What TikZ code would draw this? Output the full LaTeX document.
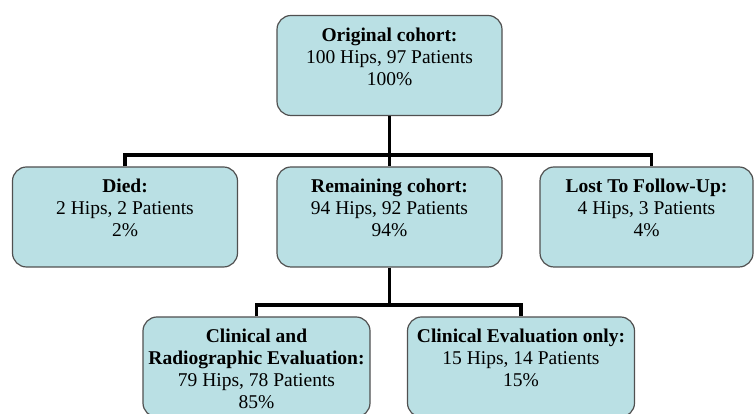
\documentclass[tikz,border=0pt]{standalone}
\usepackage{fontspec}
\setmainfont{Liberation Serif}
\definecolor{boxfill}{RGB}{186,224,228}
\definecolor{boxline}{RGB}{80,80,80}
% text of one box, set from the top down
\newcommand{\boxtext}[2][222pt]{\parbox[t][76pt][t]{#1}{\centering\fontsize{19.5}{22}\selectfont #2}}

\begin{document}
\begin{tikzpicture}[x=1pt,y=1pt,
        cohort/.style={draw=boxline, line width=1.2pt, fill=boxfill, rounded corners=14pt,
            minimum width=225pt, minimum height=100pt, inner xsep=1pt, inner ysep=11pt},
        link/.style={line width=3.6pt}]
        \useasboundingbox (0,0) rectangle (755,414);
        \clip (0,0) rectangle (755,414);
        % Top of the tree
        \node[cohort] (orig) at (389.5,348.5) {\boxtext{\textbf{Original cohort:}\\100 Hips, 97 Patients\\100\%}};
        % Second row
        \node[cohort] (died) at (125,197) {\boxtext{\textbf{Died:}\\2 Hips, 2 Patients\\2\%}};
        \node[cohort] (rest) at (389.5,197) {\boxtext{\textbf{Remaining cohort:}\\94 Hips, 92 Patients\\94\%}};
        \node[cohort, minimum width=213pt] (lost) at (646.5,197) {\boxtext[205pt]{\textbf{Lost To Follow-Up:}\\4 Hips, 3 Patients\\4\%}};
        % Third row, cut off at the bottom
        \node[cohort, minimum width=227pt] (clin) at (256.5,47) {\boxtext{\textbf{Clinical and}\\\textbf{Radiographic Evaluation:}\\79 Hips, 78 Patients\\85\%}};
        \node[cohort, minimum width=227pt] (only) at (521,47) {\boxtext{\textbf{Clinical Evaluation only:}\\15 Hips, 14 Patients\\15\%}};
        % Branch points
        \coordinate (bus) at (389.5,259);
        \coordinate (split) at (389.5,109);
        % Draw the links
        \draw[link] (orig.south) -- (rest.north);
        \draw[link] (died.north) |- (bus) -| ([xshift=5pt]lost.north);
        \draw[link] (rest.south) -- (split);
        \draw[link] (clin.north) |- (split) -| (only.north);
    \end{tikzpicture}
\end{document}
